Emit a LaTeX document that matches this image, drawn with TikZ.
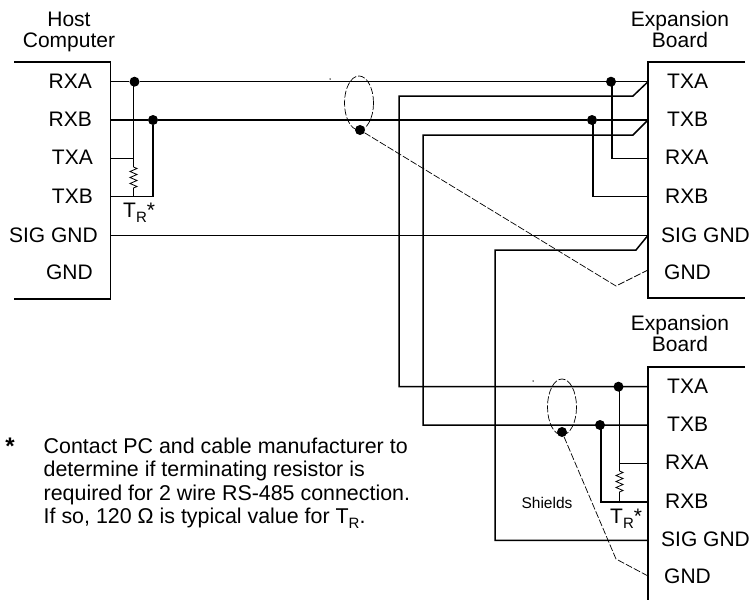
\documentclass[tikz,border=0pt]{standalone}
\usepackage{fontspec}
\setmainfont{Liberation Sans}
\usetikzlibrary{decorations.pathmorphing}
\newcommand{\termR}[1]{T\raisebox{-5pt}{\fontsize{#1}{#1}\selectfont R}}
\tikzset{
  wire/.style={line width=1.5pt},
  shield/.style={line width=0.7pt, dash pattern=on 7pt off 2pt},
  pin/.style={font=\fontsize{21}{21}\selectfont, inner sep=0pt, anchor=base east},
  pinb/.style={font=\fontsize{21}{21}\selectfont, inner sep=0pt, anchor=base west},
  heading/.style={font=\fontsize{21}{21}\selectfont, inner sep=0pt, align=center},
  dot/.style={circle, fill=black, inner sep=0pt, minimum size=10pt},
  speck/.style={circle, fill=black, inner sep=0pt, minimum size=1.5pt},
  resistor/.style={line width=0.8pt, decorate, decoration={zigzag, amplitude=3.5pt, segment length=6pt}}
}
\begin{document}
\begin{tikzpicture}[x=1pt,y=-1pt]
  \useasboundingbox (0,0) rectangle (752,600);
  % boxes
  \draw[wire] (14,62) -- (110.5,62) -- (110.5,299) -- (14,299);
  \draw[wire] (745,62) -- (648,62) -- (648,298) -- (745,298);
  \draw[wire] (745,367) -- (648,367) -- (648,600);
  % titles
  \node[heading] (host) at (69,31.5) {Host\\Computer};
  \node[heading] (exp1) at (680,29.5) {Expansion\\Board};
  \node[heading] (exp2) at (680,333) {Expansion\\Board};
  % host pins
  \node[pin] (hrxa) at (92,88) {RXA};
  \node[pin] (hrxb) at (92,126) {RXB};
  \node[pin] (htxa) at (93,164) {TXA};
  \node[pin] (htxb) at (93,203) {TXB};
  \node[pin] (hsig) at (98,242) {SIG GND};
  \node[pin] (hgnd) at (93,279) {GND};
  % board 1 pins
  \node[pinb] (atxa) at (667,88) {TXA};
  \node[pinb] (atxb) at (667,126) {TXB};
  \node[pinb] (arxa) at (665,164) {RXA};
  \node[pinb] (arxb) at (665,203) {RXB};
  \node[pinb] (asig) at (661,242) {SIG GND};
  \node[pinb] (agnd) at (664,279) {GND};
  % board 2 pins
  \node[pinb] (btxa) at (667,393) {TXA};
  \node[pinb] (btxb) at (667,431) {TXB};
  \node[pinb] (brxa) at (665,469) {RXA};
  \node[pinb] (brxb) at (665,508) {RXB};
  \node[pinb] (bsig) at (661,546) {SIG GND};
  \node[pinb] (bgnd) at (664,583) {GND};
  % coordinates
  \coordinate (h1) at (110,81.7);
  \coordinate (h2) at (110,120);
  \coordinate (h3) at (110,158.3);
  \coordinate (h4) at (110,196.7);
  \coordinate (h5) at (110,235.3);
  \coordinate (a1) at (648,81.7);
  \coordinate (a2) at (648,120);
  \coordinate (a3) at (648,158.3);
  \coordinate (a4) at (648,196.7);
  \coordinate (a5) at (648,235.3);
  \coordinate (a6) at (648,270);
  \coordinate (b1) at (648,386.7);
  \coordinate (b2) at (648,425);
  \coordinate (b3) at (648,463.7);
  \coordinate (b4) at (648,502);
  \coordinate (b5) at (648,540.3);
  \coordinate (b6) at (648,576);
  \coordinate (r1top) at (133.5,167);
  \coordinate (r1bot) at (133.5,190);
  \coordinate (r2top) at (619.5,471);
  \coordinate (r2bot) at (619.5,494);
  % junctions
  \node[dot] (j1) at (134.5,81.7) {};
  \node[dot] (j2) at (153,120) {};
  \node[dot] (j3) at (611,81.7) {};
  \node[dot] (j4) at (592,120) {};
  \node[dot] (j5) at (618.5,386.7) {};
  \node[dot] (j6) at (600,425) {};
  \node[dot] (s1) at (360,130) {};
  \node[dot] (s2) at (562,432) {};
  % main wires
  \draw[wire] (h1) -- (j1) -- (j3) -- (a1);
  \draw[wire] (h2) -- (j2) -- (j4) -- (a2);
  \draw[wire] (h5) -- (a5);
  \draw[wire] (a1) -- (633,96) -- (399,96) -- (399,386.7) -- (b1);
  \draw[wire] (a2) -- (633,135) -- (423,135) -- (423,425) -- (b2);
  \draw[wire] (a5) -- (636,250) -- (495,250) -- (495,540.3) -- (b5);
  % host terminator
  \draw[wire] (h3) -- (133.5,158.3);
  \draw[wire] (133.5,81.7) -- (133.5,158.3);
  \draw[line width=0.8pt] (133.5,158.3) -- (r1top);
  \draw[wire] (h4) -- (153,196.7) -- (j2);
  \draw[resistor] (r1top) -- (r1bot);
  \draw[line width=0.8pt] (r1bot) -- (133.5,196.7);
  % board 1 tees
  \draw[wire] (612,81.7) -- (612,158.3) -- (a3);
  \draw[wire] (593,120) -- (593,196.7) -- (a4);
  % board 2 terminator
  \draw[wire] (619.5,386.7) -- (619.5,463.7) -- (b3);
  \draw[line width=0.8pt] (619.5,463.7) -- (r2top);
  \draw[wire] (601,425) -- (601,502) -- (b4);
  \draw[resistor] (r2top) -- (r2bot);
  \draw[line width=0.8pt] (r2bot) -- (619.5,502);
  % shields
  \draw[shield] (359,103) ellipse (14.5 and 27);
  \draw[shield] (562,407) ellipse (14.5 and 28);
  \draw[shield] (s1) -- (616,286) -- (a6);
  \draw[shield] (s2) -- (616,559) -- (b6);
  \node[speck] (sp1) at (330,79) {};
  \node[speck] (sp2) at (533,381) {};
  % labels
  \node[pinb] (tr1) at (123,217) {\termR{15}*};
  \node[pinb] (tr2) at (610,523) {\termR{15}*};
  \node[font=\fontsize{15.5}{16}\selectfont, inner sep=0pt] (shlabel) at (547,503) {Shields};
  \node[font=\fontsize{24}{24}\selectfont\bfseries, inner sep=0pt] (star) at (10,446) {*};
  \node[font=\fontsize{21.4}{23.5}\selectfont, inner sep=0pt, align=left, anchor=north west] (note) at (43.5,437.5)
    {Contact PC and cable manufacturer to\\determine if terminating resistor is\\required for 2 wire RS-485 connection.\\If so, 120 Ω is typical value for \termR{15}.};
\end{tikzpicture}
\end{document}
